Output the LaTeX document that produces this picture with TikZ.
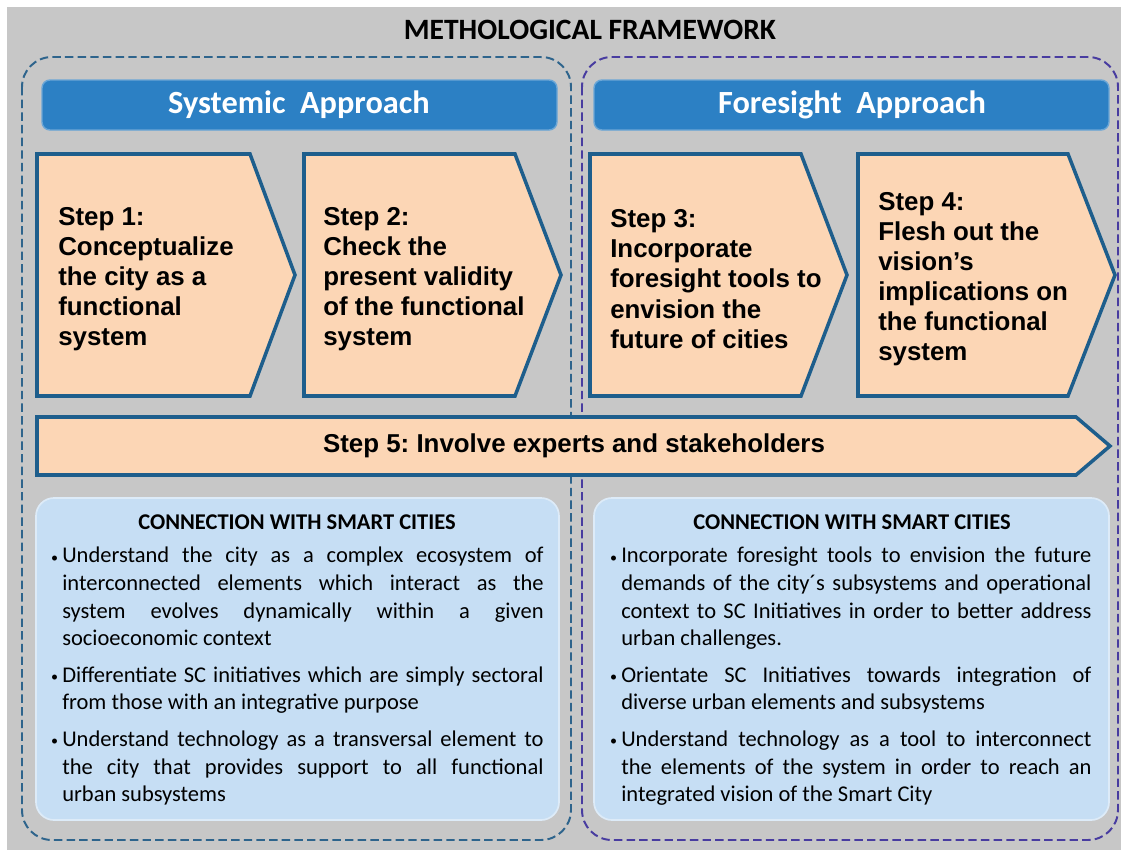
\documentclass[tikz,border=0pt]{standalone}
\usepackage{fontspec}
\setmainfont{Carlito}
\newfontfamily\arialfont{Liberation Sans}

\definecolor{bggray}{RGB}{199,199,199}
\definecolor{peach}{RGB}{252,214,181}
\definecolor{stepline}{RGB}{30,94,140}
\definecolor{appblue}{RGB}{44,128,196}
\definecolor{conblue}{RGB}{198,222,244}
\definecolor{sysdash}{RGB}{46,100,140}
\definecolor{foredash}{RGB}{72,60,160}

\tikzstyle{stepbox}=[draw=stepline,fill=peach,line width=2.5pt,line join=miter]
\tikzstyle{steptext}=[anchor=west,align=left,inner sep=0pt,font=\arialfont\bfseries\frenchspacing\fontsize{18.4}{21.4}\selectfont]
\tikzstyle{approach}=[fill=appblue,draw=appblue!70!white,line width=1pt,rounded corners=0.2cm]
\tikzstyle{conbox}=[fill=conblue,draw=conblue!60!white,line width=1.2pt,rounded corners=0.45cm]
\tikzstyle{bullets}=[anchor=north west,inner sep=0pt,align=justify,font=\fontsize{16}{19.6}\selectfont]
\tikzstyle{frame}=[line width=1.4pt,dash pattern=on 6pt off 3pt,rounded corners=0.75cm]

\newcommand{\bul}{\noindent\makebox[0pt][r]{\raisebox{0.5pt}{\fontsize{10}{10}\selectfont\textbullet}\hspace{3pt}}}
\newcommand{\listsetup}{\setlength{\parskip}{6.5pt}\hyphenpenalty=10000\tolerance=9999\hbadness=10000\frenchspacing}

\begin{document}
\begin{tikzpicture}[x=0.025cm,y=-0.025cm]
\useasboundingbox (0,0) rectangle (1121,850);
\fill[white] (0,0) rectangle (1121,850);
\fill[bggray] (7,7) rectangle (1121,850);

\node (title) at (590,30) {\bfseries\fontsize{21}{25}\selectfont METHOLOGICAL FRAMEWORK};

% the two approaches
\draw[frame,sysdash] (22,57) rectangle (571,840);
\draw[frame,foredash] (582,57) rectangle (1118,840);

\draw[approach] (42,80) rectangle (557,130);
\draw[approach] (594,80) rectangle (1109,130);
\node[text=white] (sys) at (299,105) {\bfseries\fontsize{23}{28}\selectfont Systemic\hspace{0.45em}Approach};
\node[text=white] (fore) at (852,105) {\bfseries\fontsize{23}{28}\selectfont Foresight\hspace{0.45em}Approach};

% steps 1-4
\foreach \a/\b/\c in {37/250/295,304/515/561,590/801/847,858/1068/1115}{
\draw[stepbox] (\a,154) -- (\b,154) -- (\c,275) -- (\b,396) -- (\a,396) -- cycle;
}
\node[steptext] (s1) at (58,279) {Step 1:\\Conceptualize\\the city as a\\functional\\system};
\node[steptext] (s2) at (323,279) {Step 2:\\Check the\\present validity\\of the functional\\system};
\node[steptext] (s3) at (610,279) {Step 3:\\Incorporate\\foresight tools to\\envision the\\future of cities};
\node[steptext] (s4) at (878,279) {Step 4:\\Flesh out the\\vision’s\\implications on\\the functional\\system};

% step 5
\draw[stepbox] (37,417) -- (1076,417) -- (1110,446) -- (1076,475) -- (37,475) -- cycle;
\node[steptext,anchor=center] (s5) at (574,446) {Step 5: Involve experts and stakeholders};

% connection with smart cities
\draw[conbox] (36,498) rectangle (559,820);
\draw[conbox] (594,498) rectangle (1109,820);

\node (con1) at (297,522) {\bfseries\fontsize{16}{19}\selectfont CONNECTION WITH SMART CITIES};
\node (con2) at (852,522) {\bfseries\fontsize{16}{19}\selectfont CONNECTION WITH SMART CITIES};

\node[bullets,text width=12.03cm] (list1) at (62,547) {\listsetup
\bul Understand the city as a complex ecosystem of\linebreak interconnected elements which interact as the\linebreak system evolves dynamically within a given\linebreak socioeconomic context\par
\bul Differentiate SC initiatives which are simply sectoral\linebreak from those with an integrative purpose\par
\bul Understand technology as a transversal element to\linebreak the city that provides support to all functional\linebreak urban subsystems\par};

\node[bullets,text width=11.75cm] (list2) at (621,547) {\listsetup
\bul Incorporate foresight tools to envision the future\linebreak demands of the city´s subsystems and operational\linebreak context to SC Initiatives in order to better address\linebreak urban challenges.\par
\bul Orientate SC Initiatives towards integration of\linebreak diverse urban elements and subsystems\par
\bul Understand technology as a tool to interconnect\linebreak the elements of the system in order to reach an\linebreak integrated vision of the Smart City\par};
\end{tikzpicture}
\end{document}
